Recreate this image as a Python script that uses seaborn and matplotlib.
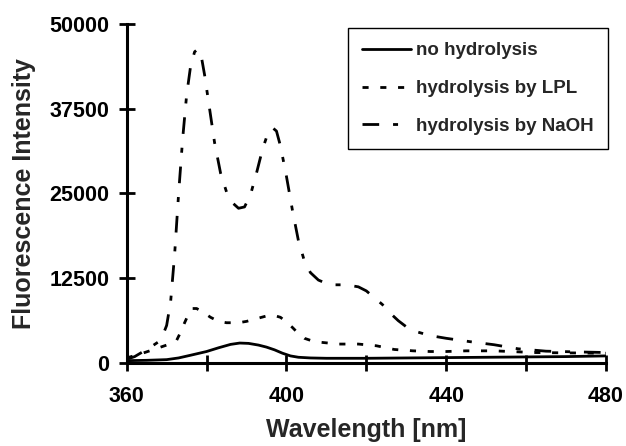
import matplotlib
matplotlib.use("Agg")
import matplotlib.pyplot as plt
import seaborn as sns
import pandas as pd

# ---- data ----
wl_none = [360, 365, 370, 373, 376, 380, 383, 386, 388.3, 390.5, 393, 395, 397, 399, 401, 403, 406, 410, 420, 430, 440, 450, 460, 470, 480]
int_none = [300, 350, 450, 700, 1100, 1650, 2200, 2700, 2900, 2850, 2600, 2300, 1900, 1400, 1000, 800, 700, 650, 650, 700, 750, 800, 850, 900, 1000]

wl_lpl = [360, 364, 368, 371, 372.5, 373.5, 374.5, 375.5, 376.5, 377.5, 379, 381, 383, 385, 388, 390, 392.5, 395, 396.8, 398.5, 400, 401.5, 403, 404.5, 406.5, 408.8, 413, 418, 422.5, 427, 431.7, 436, 440, 445, 452, 456, 462, 470, 480]
int_lpl = [700, 1400, 2200, 2800, 3300, 4500, 5900, 7200, 8000, 8000, 7500, 6700, 6100, 5900, 5900, 6100, 6500, 6900, 7000, 6700, 6000, 5200, 4300, 3600, 3200, 3000, 2750, 2750, 2500, 1950, 1750, 1650, 1650, 1750, 1750, 1650, 1500, 1450, 1400]

wl_naoh = [360, 362, 364, 366, 368, 369, 370, 371, 372, 373, 374, 375, 376, 377, 377.8, 378.6, 379.5, 380.5, 382, 383.5, 385, 386.5, 388, 389.5, 391, 392.5, 394, 395.3, 396.5, 397.5, 398.5, 400, 401.5, 403, 404.5, 406, 408, 410, 412, 414, 416, 418, 420, 422, 424, 426, 428, 430, 433, 436, 440, 446, 452, 458, 465, 472, 480]
int_naoh = [500, 900, 1600, 2300, 3100, 4000, 5500, 9000, 16000, 25000, 33000, 39500, 43800, 45900, 46300, 45500, 42500, 38500, 32500, 28000, 25200, 23600, 22800, 23000, 24800, 28000, 31500, 33800, 34700, 34200, 32000, 27500, 22500, 18000, 15000, 13300, 12200, 11700, 11500, 11500, 11400, 11200, 10600, 9600, 8600, 7300, 6200, 5300, 4500, 4000, 3600, 3100, 2650, 2050, 1700, 1600, 1500]

labels = ["no hydrolysis", "hydrolysis by LPL", "hydrolysis by NaOH"]
x_ticks = [360, 380, 400, 420, 440, 460, 480]
x_ticklabels = ["360", "", "400", "", "440", "", "480"]
y_ticks = [0, 12500, 25000, 37500, 50000]

df = pd.concat([
    pd.DataFrame({"wl": wl_none, "val": int_none, "series": labels[0]}),
    pd.DataFrame({"wl": wl_lpl, "val": int_lpl, "series": labels[1]}),
    pd.DataFrame({"wl": wl_naoh, "val": int_naoh, "series": labels[2]}),
], ignore_index=True)

sns.set_style("ticks")
plt.rcParams["font.family"] = ["Liberation Sans", "DejaVu Sans"]
plt.rcParams["font.weight"] = "bold"

fig = plt.figure(figsize=(6.26, 4.46), dpi=100)
ax = fig.add_axes([0.2024, 0.1868, 0.7656, 0.7592])

sns.lineplot(data=df, x="wl", y="val", hue="series", style="series",
             hue_order=labels, style_order=labels,
             palette={l: "black" for l in labels},
             dashes={labels[0]: "", labels[1]: (2.2, 4.2), labels[2]: (6, 5, 1.8, 5)},
             linewidth=2.0, ax=ax, legend=True, estimator=None, sort=True)

ax.set_xlim(360, 480)
ax.set_ylim(0, 50000)
ax.set_xticks(x_ticks)
ax.set_xticklabels(x_ticklabels)
ax.set_yticks(y_ticks)
ax.set_yticklabels([str(v) for v in y_ticks])
ax.tick_params(axis="both", direction="inout", length=11, width=2.0, labelsize=15.5, colors="black")
ax.tick_params(axis="x", pad=11)
ax.tick_params(axis="y", pad=7)
for lab in ax.get_xticklabels() + ax.get_yticklabels():
    lab.set_fontweight("bold")

for s in ["top", "right"]:
    ax.spines[s].set_visible(False)
for s in ["left", "bottom"]:
    ax.spines[s].set_linewidth(2.2)
    ax.spines[s].set_color("black")

ax.set_xlabel("Wavelength [nm]", fontsize=18, fontweight="bold")
ax.xaxis.set_label_coords(0.5, -0.163)
ax.set_ylabel("Fluorescence Intensity", fontsize=18, fontweight="bold")
ax.yaxis.set_label_coords(-0.19, 0.5)

leg = ax.legend(loc="upper right", bbox_to_anchor=(1.004, 0.988), fontsize=13.5,
                frameon=True, fancybox=False, edgecolor="black", framealpha=1,
                handlelength=2.6, handletextpad=0.3, labelspacing=1.1,
                borderpad=0.75, borderaxespad=0)
leg.get_frame().set_linewidth(1.0)
for t in leg.get_texts():
    t.set_fontweight("bold")

fig.savefig("out.png", dpi=100)
